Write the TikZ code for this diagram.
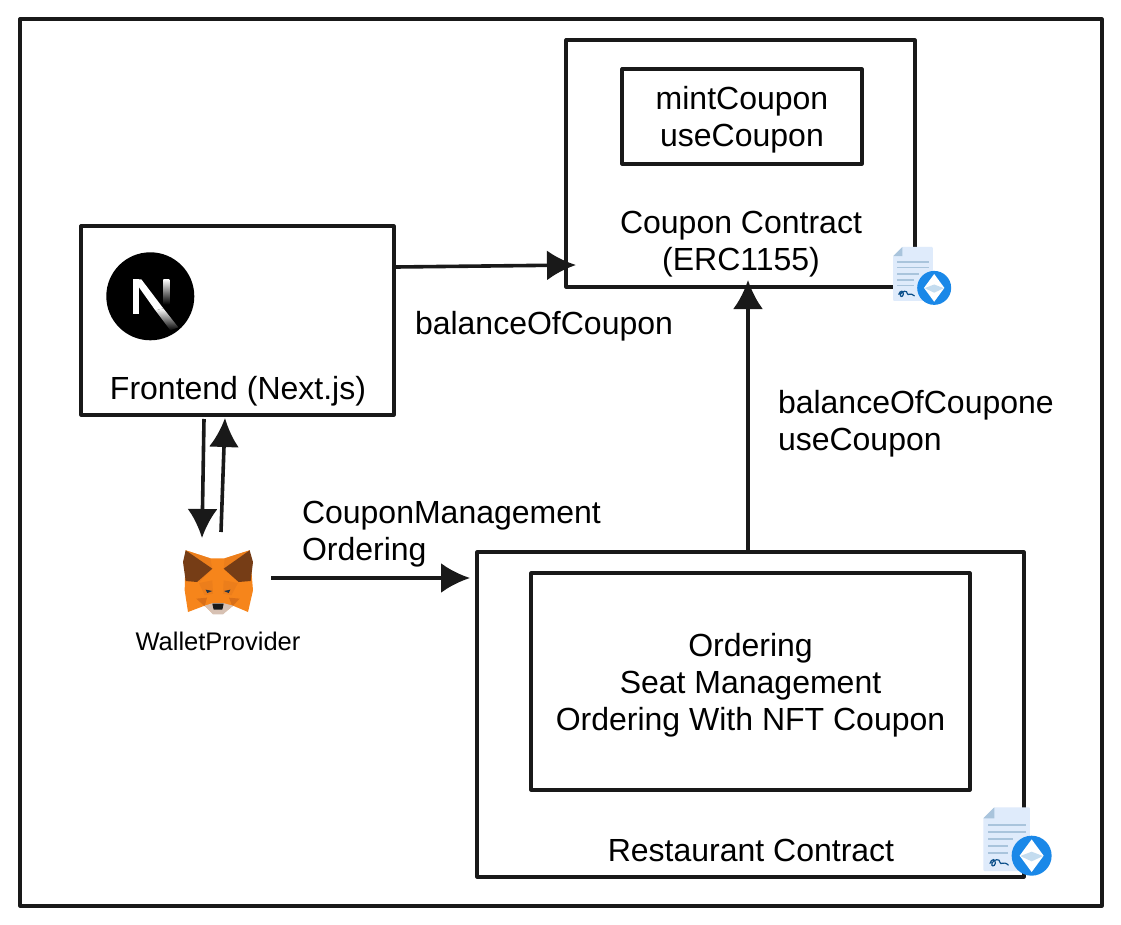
\documentclass[tikz,border=0pt]{standalone}
\usepackage{fontspec}
\setmainfont{Liberation Sans}
\usetikzlibrary{arrows.meta,positioning}
\definecolor{foxorange}{HTML}{F6851B}
\definecolor{foxmid}{HTML}{EC7E1B}
\definecolor{foxdark}{HTML}{D96F18}
\definecolor{foxbrown}{HTML}{763D16}
\definecolor{foxsand}{HTML}{D7C1B3}
\definecolor{foxeye}{HTML}{233447}
\definecolor{sheet}{HTML}{DFEBFB}
\definecolor{sheetline}{HTML}{A9C4DC}
\definecolor{inkblue}{HTML}{0B4F8A}
\definecolor{ethblue}{HTML}{1A88E8}
\definecolor{ethpale}{HTML}{C4DCEF}
\tikzset{
  contracticon/.pic={
    \begin{scope}[shift={(-142,-140)}]
      \fill[sheet,rounded corners=1pt] (40,70) -- (73,37) -- (180,37) -- (180,228) -- (40,228) -- cycle;
      \fill[sheetline] (40,70) -- (73,37) -- (73,70) -- cycle;
      \foreach \ya/\xb in {90/167,110/167,132/130,153/115,174/113}
        \fill[sheetline] (53,\ya-3) rectangle (\xb,\ya+3);
      \draw[inkblue,line width=1.2pt,line cap=round] (60,205) .. controls (64,190) and (78,190) .. (76,205) .. controls (74,216) and (62,214) .. (66,204) .. controls (72,192) and (90,190) .. (90,202) .. controls (92,212) and (100,196) .. (115,210);
      \fill[ethblue] (185,182) circle (60);
      \fill[white] (185,133) -- (221,182) -- (185,231) -- (149,182) -- cycle;
      \fill[ethpale] (185,170) -- (219,183) -- (185,199) -- (151,183) -- cycle;
    \end{scope}
  },
  foxicon/.pic={
    \begin{scope}[shift={(-145,-155)}]
      \fill[foxorange] (48,60) -- (122,84) -- (165,84) -- (240,60) -- (250,180) -- (235,245) -- (190,226) -- (160,250) -- (130,250) -- (105,226) -- (55,245) -- (45,180) -- cycle;
      \fill[foxmid] (88,155) -- (128,115) -- (122,84) -- (48,60) -- cycle;
      \fill[foxmid] (207,155) -- (162,115) -- (165,84) -- (240,60) -- cycle;
      \fill[foxmid] (88,158) -- (128,150) -- (130,190) -- (105,195) -- cycle;
      \fill[foxmid] (205,158) -- (162,150) -- (160,190) -- (185,195) -- cycle;
      \fill[foxdark] (80,205) -- (112,202) -- (105,228) -- cycle;
      \fill[foxdark] (210,205) -- (178,202) -- (188,228) -- cycle;
      \fill[foxbrown] (48,60) -- (128,115) -- (82,155) -- (48,152) -- (40,95) -- cycle;
      \fill[foxbrown] (240,60) -- (162,115) -- (207,155) -- (243,152) -- (250,95) -- cycle;
      \fill[foxsand] (105,226) -- (130,218) -- (160,218) -- (190,226) -- (160,252) -- (130,252) -- cycle;
      \fill[black!90] (128,220) -- (162,220) -- (158,238) -- (132,238) -- cycle;
      \fill[foxeye] (108,178) -- (128,182) -- (113,188) -- cycle;
      \fill[foxeye] (182,178) -- (163,182) -- (177,188) -- cycle;
    \end{scope}
  },
  nextlogo/.pic={
    \fill[black] (0,0) circle (44);
    \shade[top color=white,bottom color=black] (13,-17) rectangle (19,8);
    \fill[white] (-17,-17) -- (-9,-17) -- (13,12) -- (5,14) -- cycle;
    \shade[shading angle=-38,top color=white,bottom color=black] (5,14) -- (13,12) -- (28,31) -- (20,34) -- cycle;
    \fill[white] (-17,-17) rectangle (-11,18);
  }
}
\begin{document}
\begin{tikzpicture}[x=1pt,y=-1pt,>={Latex[length=29pt,width=30pt]},
    every node/.style={font=\fontsize{32}{37}\selectfont,align=center,outer sep=0pt,inner sep=0pt},
    box/.style={draw=black!90,line width=3.2pt,line join=round},
    arrow/.style={draw=black!90,line width=3.6pt},
    iconbox/.style={minimum width=70pt,minimum height=70pt}]
  \useasboundingbox (0,0) rectangle (1121,925);
  \fill[white] (0,0) rectangle (1121,925);
  \node[box,minimum width=1082pt,minimum height=887pt] (outer) at (561,462.5) {};
  % contract on top
  \node[box,minimum width=349pt,minimum height=247pt] (coupon) at (740.5,163.5) {};
  \node[box,minimum width=240pt,minimum height=95pt] (couponfuncs) at (742,116.5) {};
  \node (funcslabel) at (742,119.5) {mintCoupon\\useCoupon};
  \node (couponlabel) at (741,244) {Coupon Contract\\(ERC1155)};
  \pic[scale=0.283] at (922,276) {contracticon};
  % frontend
  \node[box,minimum width=313pt,minimum height=189pt] (frontend) at (237.5,320.5) {};
  \pic at (150.3,296.3) {nextlogo};
  \node (frontendlabel) at (238,391) {Frontend (Next.js)};
  % wallet
  \node[iconbox] (wallet) at (218,582) {};
  \pic[scale=0.3333] at (wallet) {foxicon};
  \node[font=\fontsize{25.5}{28}\selectfont] (walletlabel) at (218,641) {WalletProvider};
  % restaurant
  \node[box,minimum width=547pt,minimum height=325pt] (restaurant) at (750.5,714.5) {};
  \node[box,minimum width=439pt,minimum height=217pt] (restaurantfuncs) at (750.5,681.5) {};
  \node (orderinglabel) at (750.5,685) {Ordering\\Seat Management\\Ordering With NFT Coupon};
  \node (restaurantlabel) at (751,850) {Restaurant Contract};
  \pic[scale=0.3333] at (1017.3,841.7) {contracticon};
  % connector labels
  \node[anchor=west] (balancelabel) at (415,326) {balanceOfCoupon};
  \node[anchor=west,align=left] (uselabel) at (778,424) {balanceOfCoupone\\useCoupon};
  \node[anchor=west,align=left] (managelabel) at (302,534) {CouponManagement\\Ordering};
  % connectors
  \draw[arrow,->] ([xshift=2pt,yshift=53.5pt]frontend.east) -- ([xshift=10pt,yshift=-101.5pt]coupon.west);
  \draw[arrow,->] ([xshift=-33.5pt,yshift=-4pt]frontend.south) -- ([xshift=-16pt,yshift=9pt]wallet.north);
  \draw[arrow,->] ([xshift=3pt,yshift=15pt]wallet.north) -- ([xshift=-12.5pt,yshift=-3pt]frontend.south);
  \draw[arrow,->] ([xshift=18pt,yshift=4pt]wallet.east) -- ([xshift=-7pt,yshift=136.5pt]restaurant.west);
  \draw[arrow,->] ([xshift=-2.5pt]restaurant.north) -- ([xshift=7.5pt,yshift=7pt]coupon.south);
\end{tikzpicture}
\end{document}
